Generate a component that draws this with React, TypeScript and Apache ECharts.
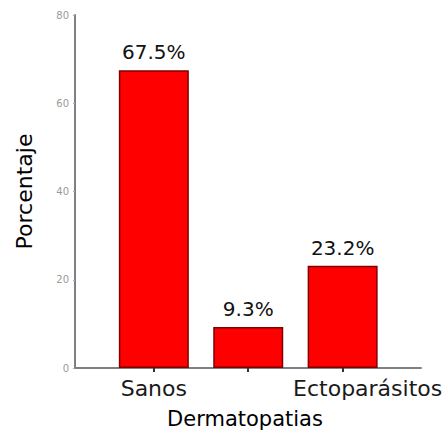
import React, { useEffect, useRef } from "react";
import * as echarts from "echarts";

const categories = ["Sanos", "", "Ectoparásitos"];
const values = [67.5, 9.3, 23.2];
const yTicks = [0, 20, 40, 60, 80];

const FONT = "DejaVu Sans";

export default function App() {
  const ref = useRef<HTMLDivElement>(null);
  useEffect(() => {
    if (!ref.current) return;
    const chart = echarts.init(ref.current, null, { renderer: "svg" });
    const positions = categories.map((_, i) => i);
    chart.setOption({
      animation: false,
      backgroundColor: "#ffffff",
      textStyle: { fontFamily: FONT },
      grid: { left: 75, right: 27, top: 15, bottom: 65 },
      xAxis: {
        type: "value",
        min: -0.835,
        max: 2.83,
        name: "Dermatopatias",
        nameLocation: "middle",
        nameGap: 40,
        nameTextStyle: { color: "#000", fontSize: 21, fontFamily: FONT, padding: [0, 6, 0, 0] },
        splitLine: { show: false },
        axisLine: { show: true, onZero: false, lineStyle: { color: "#808080", width: 2 } },
        axisTick: { show: true, customValues: positions, length: 4, lineStyle: { color: "#333", width: 2 } },
        axisLabel: {
          customValues: positions,
          formatter: (v: number) => {
            const i = Math.round(v);
            const t = categories[i] ?? "";
            if (!t) return "";
            return i === categories.length - 1 ? `{r|${t}}` : `{c|${t}}`;
          },
          rich: {
            c: { color: "#1a1a1a", fontSize: 22, fontFamily: FONT },
            r: { color: "#1a1a1a", fontSize: 22, fontFamily: FONT, padding: [0, 0, 0, 50] },
          },
          color: "#1a1a1a",
          fontSize: 22,
          fontFamily: FONT,
          margin: 9,
        },
      },
      yAxis: {
        type: "value",
        min: 0,
        max: 80,
        interval: 20,
        name: "Porcentaje",
        nameLocation: "middle",
        nameGap: 40,
        nameTextStyle: { color: "#000", fontSize: 22, fontFamily: FONT },
        splitLine: { show: false },
        axisLine: { show: true, onZero: false, lineStyle: { color: "#808080", width: 2 } },
        axisTick: { show: true, length: 2, lineStyle: { color: "#aaa" } },
        axisLabel: {
          customValues: yTicks,
          color: "#9a9a9a",
          fontSize: 10,
          fontFamily: FONT,
          margin: 6,
        },
      },
      series: [
        {
          type: "bar",
          barWidth: 70,
          data: values.map((v, i) => [positions[i], v]),
          itemStyle: { color: "#ff0000", borderColor: "#800000", borderWidth: 1.5 },
          label: {
            show: true,
            position: "top",
            distance: 8,
            formatter: (p: any) => `${p.value[1]}%`,
            color: "#111",
            fontSize: 20,
            fontFamily: FONT,
          },
        },
      ],
    });
    return () => chart.dispose();
  }, []);
  return (
    <div
      ref={ref}
      style={{ position: "fixed", left: 0, top: 0, width: 448, height: 434 }}
    />
  );
}
